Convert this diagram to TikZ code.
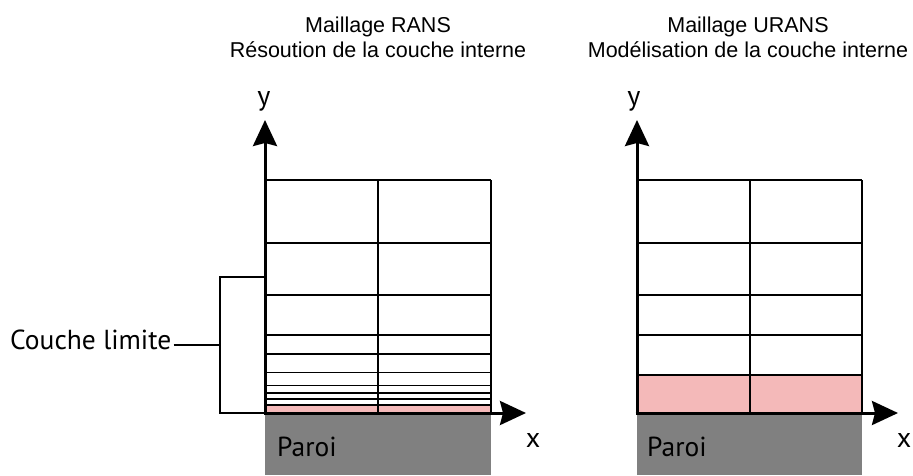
\documentclass[tikz,border=0pt]{standalone}
\usepackage{fontspec}
\setmainfont{Liberation Sans}
\newfontfamily\myriad{PT Sans}
\usetikzlibrary{arrows.meta}
\definecolor{pinkcell}{HTML}{F4B9B9}
\definecolor{wallgray}{HTML}{808080}
\tikzset{
  titletext/.style={font=\fontsize{21.5}{25}\selectfont, align=center, anchor=base},
  axislabel/.style={font=\myriad\fontsize{28}{30}\selectfont, anchor=base, inner sep=0pt},
  bigtext/.style={font=\myriad\fontsize{27.5}{30}\selectfont, anchor=base west, inner sep=0pt},
  meshline/.style={line width=1.5pt, black},
  axisline/.style={line width=3pt, black, -{Stealth[length=26pt,width=24pt,inset=3pt]}},
  wall/.style={fill=wallgray, draw=none},
  bl/.style={fill=pinkcell, draw=none}
}
\begin{document}
\begin{tikzpicture}[x=1pt,y=-1pt]
\useasboundingbox (0,0) rectangle (913,475);
% titles
\node[titletext] (t1) at (378,32) {Maillage RANS};
\node[titletext] (t2) at (378,57) {Résoution de la couche interne};
\node[titletext] (t3) at (748,32) {Maillage URANS};
\node[titletext] (t4) at (748,57) {Modélisation de la couche interne};
% ---------- left ----------
\fill[wall] (265,414) rectangle (491,475);
\fill[bl] (265,405) rectangle (491,412);
\foreach \yy in {180,243,295,335,354,372.5,385.5,393,399,405}
  \draw[meshline] (265,\yy) -- (491,\yy);
\draw[meshline] (378,180) -- (378,412);
\draw[meshline] (491,180) -- (491,412);
\coordinate (o1) at (265,413);
\coordinate (ytip1) at (265,120);
\coordinate (xtip1) at (526,413);
\draw[axisline] (o1) -- (ytip1);
\draw[axisline] ([xshift=-1.5pt]o1) -- (xtip1);
\node[axislabel] (y1) at (264,105) {y};
\node[axislabel] (x1) at (533,447) {x};
\node[bigtext] (p1) at (277,456) {Paroi};
% boundary layer bracket
\coordinate (bt) at (265,277);
\coordinate (bb) at (265,413);
\draw[meshline] (bt) -- (220,277) -- (220,413) -- (bb);
\node[bigtext] (cl) at (10,349) {Couche limite};
\coordinate (cm) at (220,345);
\draw[meshline] ([xshift=2pt]cl.east |- cm) -- (cm);
% ---------- right ----------
\fill[wall] (637,414) rectangle (862,475);
\fill[bl] (637,375) rectangle (862,412);
\foreach \yy in {180,243,295,335,375}
  \draw[meshline] (637,\yy) -- (862,\yy);
\draw[meshline] (750,180) -- (750,412);
\draw[meshline] (862,180) -- (862,412);
\coordinate (o2) at (637,413);
\coordinate (ytip2) at (637,120);
\coordinate (xtip2) at (898,413);
\draw[axisline] (o2) -- (ytip2);
\draw[axisline] ([xshift=-1.5pt]o2) -- (xtip2);
\node[axislabel] (y2) at (634,105) {y};
\node[axislabel] (x2) at (904,447) {x};
\node[bigtext] (p2) at (647,456) {Paroi};
\end{tikzpicture}
\end{document}
